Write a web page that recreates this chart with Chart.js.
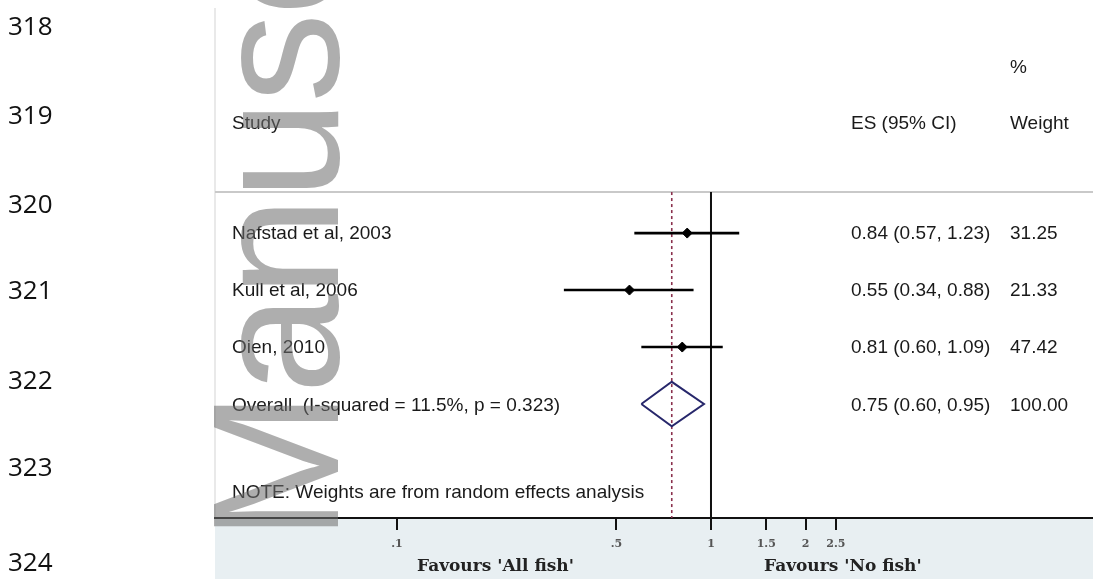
<!DOCTYPE html>
<html>
<head>
<meta charset="utf-8">
<script src="https://cdn.jsdelivr.net/npm/chart.js@4/dist/chart.umd.min.js"></script>
<style>
  html, body { margin: 0; padding: 0; background: #ffffff; overflow: hidden; }
  #wrap { width: 1093px; height: 585px; }
</style>
</head>
<body>
<div id="wrap"><canvas id="forest" width="1093" height="585"></canvas></div>
<script>
// Study-level estimates (odds ratios, 95% CI) and random-effects weights
const studies   = ['Nafstad et al, 2003', 'Kull et al, 2006', 'Oien, 2010'];
const estimates = [0.84, 0.55, 0.81];
const lowerCI   = [0.57, 0.34, 0.60];
const upperCI   = [1.23, 0.88, 1.09];
const weights   = ['31.25', '21.33', '47.42'];

// Pooled estimate
const overallLabel  = 'Overall  (I-squared = 11.5%, p = 0.323)';
const overallES     = 0.75;
const overallLower  = 0.60;
const overallUpper  = 0.95;
const overallWeight = '100.00';

// Axis ticks
const tickValues = [0.1, 0.5, 1, 1.5, 2, 2.5];
const tickLabels = ['.1', '.5', '1', '1.5', '2', '2.5'];

// Manuscript line numbers in the margin
const lineNumbers = ['318', '319', '320', '321', '322', '323', '324'];
const lineNumberY = [28, 117, 206, 292, 382, 469, 564];

const fmt = v => v.toFixed(2);
const esText = (e, l, u) => fmt(e) + ' (' + fmt(l) + ', ' + fmt(u) + ')';

// Row positions on the (reversed) y scale
const rows = studies.map((_, i) => i + 1);
const overallRow = studies.length + 1;
const headerRuleY = 0.28;
const axisEndY = 6.0;
const diamondHalf = 0.39;

const datasets = [];

// Confidence interval whiskers
studies.forEach((s, i) => {
  datasets.push({
    type: 'line',
    data: [{ x: lowerCI[i], y: rows[i] }, { x: upperCI[i], y: rows[i] }],
    borderColor: '#000000',
    borderWidth: 2.6,
    pointRadius: 0,
    order: 2
  });
});

// Point estimates
datasets.push({
  type: 'scatter',
  data: studies.map((s, i) => ({ x: estimates[i], y: rows[i] })),
  pointStyle: 'rectRot',
  pointRadius: 5,
  backgroundColor: '#000000',
  borderColor: '#000000',
  borderWidth: 1,
  order: 1
});

// Pooled diamond
datasets.push({
  type: 'line',
  data: [
    { x: overallLower, y: overallRow },
    { x: overallES, y: overallRow - diamondHalf },
    { x: overallUpper, y: overallRow },
    { x: overallES, y: overallRow + diamondHalf },
    { x: overallLower, y: overallRow }
  ],
  borderColor: '#27276b',
  borderWidth: 2,
  pointRadius: 0,
  tension: 0,
  order: 1
});

// Line of no effect
datasets.push({
  type: 'line',
  data: [{ x: 1, y: headerRuleY }, { x: 1, y: axisEndY }],
  borderColor: '#111111',
  borderWidth: 2,
  pointRadius: 0,
  order: 3
});

// Pooled estimate reference line
datasets.push({
  type: 'line',
  data: [{ x: overallES, y: headerRuleY }, { x: overallES, y: axisEndY }],
  borderColor: '#8a2f4c',
  borderWidth: 1.6,
  borderDash: [3, 3],
  pointRadius: 0,
  order: 3
});

const SANS = '"Liberation Sans", Arial, Helvetica, sans-serif';

const panelPlugin = {
  id: 'panel',
  beforeDraw(chart) {
    const { ctx, chartArea: a } = chart;
    ctx.save();
    // shaded strip under the axis
    ctx.fillStyle = '#e8eff2';
    ctx.fillRect(a.left, a.bottom, a.right - a.left, 61);
    // faint left frame
    ctx.strokeStyle = '#e2e2e2';
    ctx.lineWidth = 1.5;
    ctx.beginPath();
    ctx.moveTo(a.left, a.top);
    ctx.lineTo(a.left, a.bottom);
    ctx.stroke();
    // rule under the column headers
    const ys = chart.scales.y;
    const hy = ys.getPixelForValue(headerRuleY);
    ctx.strokeStyle = '#c9c9c9';
    ctx.lineWidth = 2;
    ctx.beginPath();
    ctx.moveTo(a.left, hy);
    ctx.lineTo(a.right, hy);
    ctx.stroke();
    ctx.restore();
  },
  afterDatasetsDraw(chart) {
    const { ctx, chartArea: a } = chart;
    const ys = chart.scales.y;
    const colStudy = a.left + 17;
    const colES = 851;
    const colW = 1010;
    ctx.save();
    ctx.fillStyle = '#1a1a1a';
    ctx.textBaseline = 'middle';
    ctx.textAlign = 'left';
    ctx.font = '19px ' + SANS;

    // headers
    ctx.fillText('%', colW, ys.getPixelForValue(-1.9));
    ctx.fillText('Study', colStudy, ys.getPixelForValue(-0.92));
    ctx.fillText('ES (95% CI)', colES, ys.getPixelForValue(-0.92));
    ctx.fillText('Weight', colW, ys.getPixelForValue(-0.92));

    // study rows
    studies.forEach((s, i) => {
      const y = ys.getPixelForValue(rows[i]) + 1;
      ctx.fillText(s, colStudy, y);
      ctx.fillText(esText(estimates[i], lowerCI[i], upperCI[i]), colES, y);
      ctx.fillText(weights[i], colW, y);
    });

    // pooled row
    const oy = ys.getPixelForValue(overallRow) + 2;
    ctx.fillText(overallLabel, colStudy, oy);
    ctx.fillText(esText(overallES, overallLower, overallUpper), colES, oy);
    ctx.fillText(overallWeight, colW, oy);

    // footnote
    ctx.fillText('NOTE: Weights are from random effects analysis', colStudy, ys.getPixelForValue(5.55));

    // direction labels under the axis
    ctx.font = 'bold 17px "DejaVu Serif", "Liberation Serif", serif';
    ctx.fillStyle = '#222222';
    ctx.fillText("Favours 'All fish'", 417, 567);
    ctx.fillText("Favours 'No fish'", 764, 567);

    // margin line numbers
    ctx.font = '26px "Open Sans", "Liberation Sans", sans-serif';
    ctx.fillStyle = '#111111';
    lineNumbers.forEach((n, i) => ctx.fillText(n, 8, lineNumberY[i]));
    ctx.restore();
  },
  afterDraw(chart) {
    // "Manuscript" stamp running up the left edge
    const { ctx } = chart;
    ctx.save();
    ctx.translate(338, 541);
    ctx.rotate(-Math.PI / 2);
    ctx.font = '180px ' + SANS;
    if ('letterSpacing' in ctx) ctx.letterSpacing = '-3px';
    ctx.textBaseline = 'alphabetic';
    ctx.textAlign = 'left';
    ctx.fillStyle = 'rgba(110,110,110,0.56)';
    ctx.fillText('Manuscript', 0, 0);
    ctx.restore();
  }
};

new Chart(document.getElementById('forest'), {
  data: { datasets },
  options: {
    responsive: false,
    animation: false,
    events: [],
    layout: { autoPadding: false, padding: { left: 215, right: 0, top: 8, bottom: 0 } },
    plugins: { legend: { display: false }, tooltip: { enabled: false } },
    scales: {
      x: {
        type: 'logarithmic',
        position: 'bottom',
        min: Math.pow(10, -1.5796),
        max: Math.pow(10, 1.2166),
        afterBuildTicks(scale) {
          scale.ticks = tickValues.map(v => ({ value: v }));
        },
        afterFit(scale) {
          scale.height = 67;
          scale.paddingLeft = 0;
          scale.paddingRight = 0;
        },
        ticks: {
          autoSkip: false,
          maxRotation: 0,
          padding: 8,
          color: '#555555',
          font: { family: '"DejaVu Serif", serif', size: 11, weight: 'bold' },
          callback(value) {
            const i = tickValues.indexOf(value);
            return i >= 0 ? tickLabels[i] : '';
          }
        },
        grid: {
          drawOnChartArea: false,
          drawTicks: true,
          tickLength: 12,
          color: '#111111',
          lineWidth: 2
        },
        border: { display: true, color: '#111111', width: 2 }
      },
      y: {
        type: 'linear',
        display: false,
        reverse: true,
        min: -2.95,
        max: axisEndY
      }
    }
  },
  plugins: [panelPlugin]
});
</script>
</body>
</html>
